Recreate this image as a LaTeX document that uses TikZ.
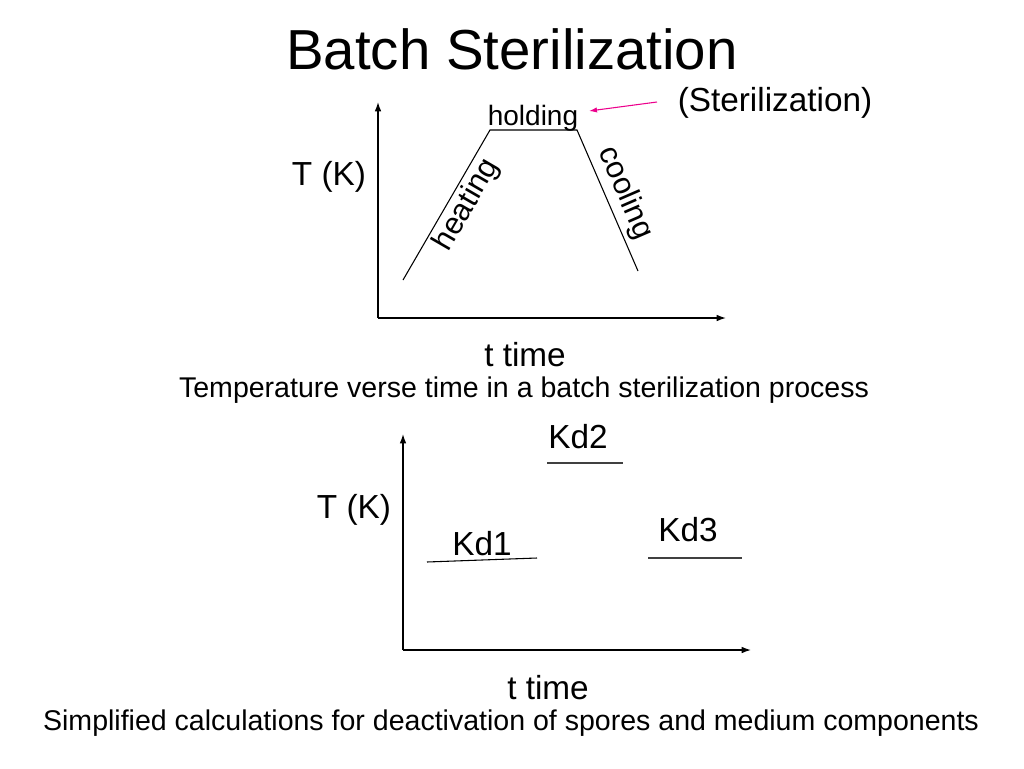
\documentclass[tikz,border=0pt]{standalone}
\usepackage{fontspec}
\setmainfont{Liberation Sans}
\usetikzlibrary{arrows.meta}
\begin{document}
\begin{tikzpicture}[x=0.75pt,y=-0.75pt,
  axis/.style={line width=1pt,-{Latex[length=7pt,width=5pt]}},
  curve/.style={line width=0.8pt},
  lvl/.style={line width=0.8pt,black!75},
  big/.style={font=\fontsize{25}{30}\selectfont,inner sep=0pt},
  mid/.style={font=\fontsize{21}{25}\selectfont,inner sep=0pt},
  captext/.style={font=\fontsize{21.4}{25}\selectfont,inner sep=0pt},
  lab/.style={font=\fontsize{23}{27}\selectfont,inner sep=0pt}]
\useasboundingbox (0,0) rectangle (1024,768);
% title
\node[font=\fontsize{42.3}{50}\selectfont,inner sep=0pt] (title) at (512,49) {Batch Sterilization};
% ---- top plot ----
\coordinate (o1) at (378,318);
\coordinate (y1) at (378,102);
\coordinate (x1) at (726,318);
\draw[axis] (o1) -- (y1);
\draw[axis] (o1) -- (x1);
\coordinate (p1) at (403,280);
\coordinate (p2) at (490,130);
\coordinate (p3) at (577,130);
\coordinate (p4) at (638,271);
\draw[curve] (p1) -- (p2) -- (p3) -- (p4);
\node[mid] (holding) at (533,118) {holding};
\node[lab,rotate=59.9] (heating) at (467,205) {heating};
\node[lab,rotate=-66.6] (cooling) at (625,193) {cooling};
\node[big] (steril) at (775,103) {(Sterilization)};
\coordinate (mstart) at (657,102);
\coordinate (mtip) at (589,111);
\draw[magenta,line width=0.8pt,-{Latex[length=6pt,width=4pt]}] (mstart) -- (mtip);
\node[big] (TK1) at (329,177) {T (K)};
\node[big] (tt1) at (525,355) {t time};
\node[captext] (cap1) at (524,390) {Temperature verse time in a batch sterilization process};
% ---- bottom plot ----
\coordinate (o2) at (403,650);
\coordinate (y2) at (403,434);
\coordinate (x2) at (751,650);
\draw[axis] (o2) -- (y2);
\draw[axis] (o2) -- (x2);
\coordinate (a1) at (427,562);
\coordinate (a2) at (537,558);
\coordinate (b1) at (547,463);
\coordinate (b2) at (623,463);
\coordinate (c1) at (648,558);
\coordinate (c2) at (742,558);
\draw[curve] (a1) -- (a2);
\draw[lvl] (b1) -- (b2);
\draw[lvl] (c1) -- (c2);
\node[big] (kd1) at (482,544) {Kd1};
\node[big] (kd2) at (578,437) {Kd2};
\node[big] (kd3) at (688,530) {Kd3};
\node[big] (TK2) at (354,510) {T (K)};
\node[big] (tt2) at (548,688) {t time};
\node[captext] (cap2) at (511,723) {Simplified calculations for deactivation of spores and medium components};
\end{tikzpicture}
\end{document}
